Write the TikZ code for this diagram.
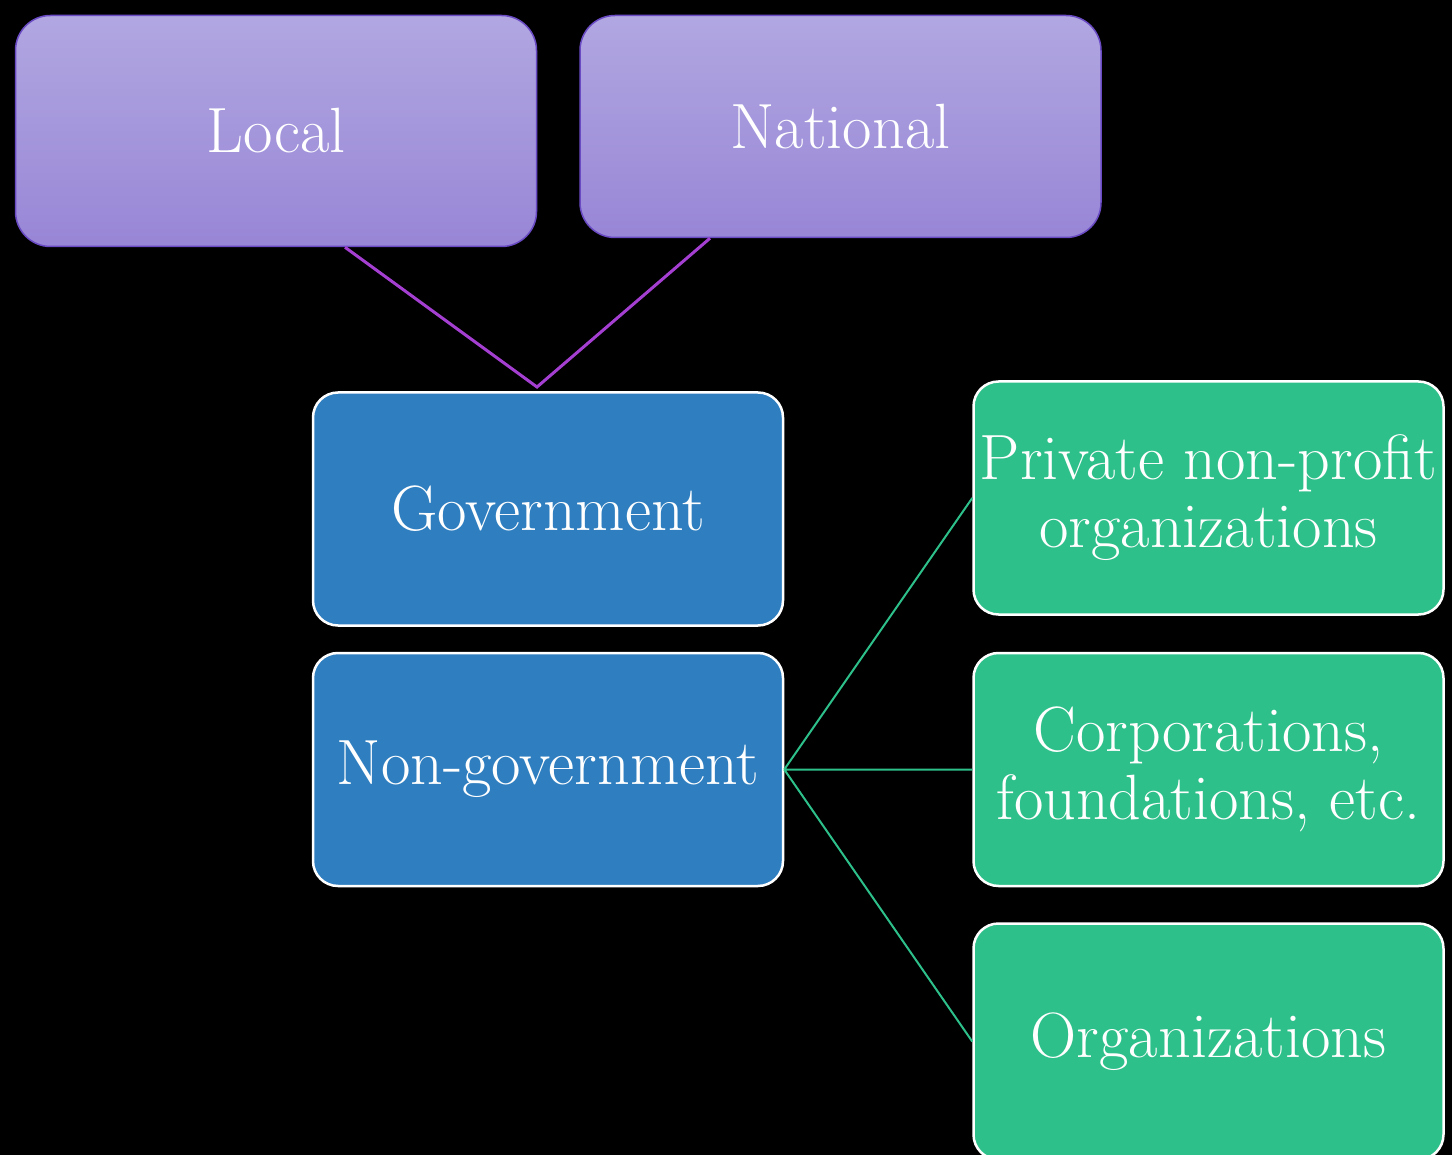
\documentclass[tikz,border=0pt]{standalone}
\usepackage{fontspec}
\usetikzlibrary{positioning}
\definecolor{lilacTop}{HTML}{B1A7E1}
\definecolor{lilacBot}{HTML}{9886D6}
\definecolor{lilacEdge}{HTML}{6A4BC4}
\definecolor{violetLine}{HTML}{A43FD2}
\definecolor{govBlue}{HTML}{2E7EC0}
\definecolor{orgGreen}{HTML}{2EC08A}
\tikzset{x=1pt,y=-1pt,
  every node/.style={text=white,font=\fontsize{64}{68}\selectfont,align=center,inner sep=4pt},
  levelbox/.style={draw=lilacEdge,line width=1.5pt,rounded corners=35pt,
    top color=lilacTop,bottom color=lilacBot,minimum width=521pt},
  sectorbox/.style={draw=white,line width=2.5pt,rounded corners=25pt,fill=govBlue,
    minimum width=470pt,minimum height=233pt},
  kindbox/.style={sectorbox,fill=orgGreen},
  toplink/.style={draw=violetLine,line width=3pt},
  sublink/.style={draw=orgGreen,line width=2pt}}

\begin{document}
\begin{tikzpicture}
    \path[use as bounding box,fill=black] (0,0) rectangle (1452,1155);
    % levels of government
    \node[levelbox,minimum height=231pt] (local) at (276,131) {Local};
    \node[levelbox,minimum height=222pt] (national) at (840.5,126.5) {National};
    \coordinate (join) at (537,387);
    % sectors
    \node[sectorbox] (gov) at (548,509) {Government};
    \node[sectorbox] (nongov) [below=25pt of gov] {Non-government};
    % kinds of non-government bodies
    \node[kindbox] (private) at (1208.5,498) {Private non-profit\\organizations};
    \node[kindbox] (corp) [below=36pt of private] {Corporations,\\foundations, etc.};
    \node[kindbox,minimum height=236pt] (orgs) [below=35pt of corp] {Organizations};
    \path[toplink] ([xshift=69pt]local.south) -- (join) -- ([xshift=-130.5pt]national.south);
    \path[sublink]
    (nongov.east) -- (private.west)
    (nongov.east) -- (corp.west)
    (nongov.east) -- (orgs.west)
    ;
\end{tikzpicture}
\end{document}
